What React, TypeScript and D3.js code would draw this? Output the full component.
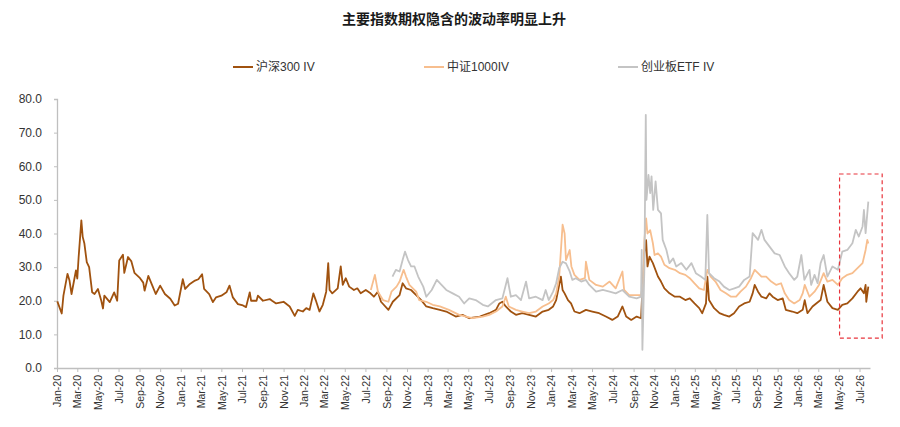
import { useEffect, useRef } from "react"
import * as d3 from "d3"

const title = "主要指数期权隐含的波动率明显上升"
const seriesNames = ["沪深300 IV", "中证1000IV", "创业板ETF IV"]
const yTicks = [0, 10, 20, 30, 40, 50, 60, 70, 80]

// 沪深300 IV
const hs300: [string, number][] = [
  ["2020-01-02", 19.8], ["2020-01-15", 16.2], ["2020-01-20", 21.5], ["2020-02-01", 28], ["2020-02-07", 26],
  ["2020-02-13", 22], ["2020-02-26", 29], ["2020-03-01", 26.6], ["2020-03-05", 33], ["2020-03-13", 43.9],
  ["2020-03-17", 39], ["2020-03-22", 37], ["2020-03-29", 31.5], ["2020-04-05", 30], ["2020-04-14", 22.5],
  ["2020-04-21", 22], ["2020-05-01", 23.5], ["2020-05-11", 20], ["2020-05-16", 17.7], ["2020-05-20", 21.5],
  ["2020-06-05", 19.6], ["2020-06-18", 22.5], ["2020-06-27", 20], ["2020-07-03", 32], ["2020-07-14", 33.7],
  ["2020-07-18", 28.3], ["2020-07-29", 33], ["2020-08-08", 31.7], ["2020-08-17", 28.3], ["2020-09-01", 26.9],
  ["2020-09-12", 25.4], ["2020-09-16", 23], ["2020-09-27", 27.4], ["2020-10-11", 24], ["2020-10-19", 22],
  ["2020-11-01", 24.5], ["2020-11-15", 22], ["2020-12-01", 20.6], ["2020-12-14", 18.6], ["2020-12-24", 19.1],
  ["2021-01-07", 26.4], ["2021-01-14", 23.5], ["2021-01-28", 25], ["2021-02-12", 26], ["2021-02-22", 26.4],
  ["2021-03-05", 27.9], ["2021-03-11", 23.5], ["2021-03-26", 22], ["2021-04-06", 19.6], ["2021-04-15", 21],
  ["2021-05-01", 21.5], ["2021-05-16", 22.5], ["2021-05-25", 24.5], ["2021-06-04", 21], ["2021-06-19", 19],
  ["2021-07-04", 18.6], ["2021-07-13", 18.1], ["2021-07-24", 22.5], ["2021-07-28", 20], ["2021-08-13", 20],
  ["2021-08-17", 21.5], ["2021-09-01", 20], ["2021-09-21", 20.5], ["2021-09-28", 20], ["2021-10-10", 19.2],
  ["2021-11-01", 19.7], ["2021-11-19", 18.3], ["2021-12-04", 15.5], ["2021-12-13", 17.3], ["2021-12-28", 16.8],
  ["2022-01-07", 17.8], ["2022-01-17", 17.3], ["2022-01-28", 22.2], ["2022-02-04", 20.2], ["2022-02-15", 16.8],
  ["2022-02-25", 18.8], ["2022-03-07", 22.7], ["2022-03-13", 31.2], ["2022-03-17", 23.2], ["2022-03-25", 22.2],
  ["2022-04-10", 23.7], ["2022-04-19", 30.2], ["2022-04-25", 24.7], ["2022-05-04", 26.7], ["2022-05-14", 24.2],
  ["2022-05-28", 23.2], ["2022-06-07", 23.7], ["2022-06-17", 22.2], ["2022-07-02", 23.2], ["2022-07-16", 22.2],
  ["2022-07-26", 21.2], ["2022-08-07", 22.7], ["2022-08-16", 19.7], ["2022-09-07", 17.3], ["2022-09-20", 19.7],
  ["2022-10-10", 21.7], ["2022-10-19", 25.2], ["2022-10-29", 23.7], ["2022-11-13", 23.2], ["2022-11-28", 21.7],
  ["2022-12-13", 20.2], ["2022-12-28", 18.3], ["2023-01-16", 17.8], ["2023-02-06", 17.3], ["2023-02-25", 16.8],
  ["2023-03-25", 15.3], ["2023-04-14", 15.8], ["2023-05-04", 14.8], ["2023-06-04", 15.3], ["2023-07-02", 16.3],
  ["2023-07-22", 17.3], ["2023-08-01", 19.2], ["2023-08-10", 19.7], ["2023-08-20", 18.3], ["2023-09-04", 16.8],
  ["2023-09-19", 15.8], ["2023-10-08", 16.3], ["2023-10-28", 15.8], ["2023-11-17", 15.3], ["2023-12-07", 16.8],
  ["2023-12-25", 17.3], ["2024-01-07", 18.3], ["2024-01-16", 20.2], ["2024-01-30", 27.2], ["2024-02-04", 23.2],
  ["2024-02-10", 22.2], ["2024-02-20", 20.2], ["2024-02-29", 19.2], ["2024-03-10", 16.8], ["2024-03-25", 16.3],
  ["2024-04-13", 17.3], ["2024-05-02", 16.8], ["2024-05-22", 16.3], ["2024-06-11", 15.3], ["2024-06-30", 14.3],
  ["2024-07-16", 15.3], ["2024-07-30", 18.3], ["2024-08-10", 15.3], ["2024-08-25", 14.3], ["2024-09-10", 15.3],
  ["2024-09-23", 14.8], ["2024-09-26", 21.2], ["2024-10-03", 34.1], ["2024-10-08", 38], ["2024-10-12", 30.2],
  ["2024-10-18", 33.1], ["2024-10-28", 31.2], ["2024-11-12", 27.2], ["2024-11-21", 25.7], ["2024-12-01", 23.7],
  ["2024-12-16", 22.2], ["2025-01-01", 21.2], ["2025-01-16", 21.2], ["2025-02-01", 20.2], ["2025-02-14", 20.7],
  ["2025-02-28", 19.2], ["2025-03-14", 17.8], ["2025-03-23", 16.3], ["2025-04-03", 19.2], ["2025-04-07", 27.2],
  ["2025-04-12", 20.2], ["2025-04-27", 17.8], ["2025-05-13", 16.3], ["2025-05-26", 15.8], ["2025-06-11", 15.3],
  ["2025-06-25", 16.3], ["2025-07-10", 18.3], ["2025-07-25", 19.2], ["2025-08-10", 19.7], ["2025-08-19", 22.2],
  ["2025-08-25", 24.7], ["2025-09-04", 22.7], ["2025-09-14", 21.2], ["2025-09-28", 20.7], ["2025-10-08", 22.2],
  ["2025-10-17", 21.2], ["2025-11-01", 20.2], ["2025-11-16", 20.7], ["2025-11-25", 17.3], ["2025-12-14", 16.8],
  ["2025-12-29", 16.3], ["2026-01-14", 17.3], ["2026-01-20", 20.2], ["2026-01-28", 16.3], ["2026-02-12", 18.3],
  ["2026-02-23", 19.2], ["2026-03-08", 20.2], ["2026-03-17", 24.7], ["2026-03-28", 19.7], ["2026-04-12", 17.8],
  ["2026-04-28", 17.3], ["2026-05-11", 18.8], ["2026-05-26", 19.2], ["2026-06-10", 20.7], ["2026-06-25", 22.7],
  ["2026-07-04", 23.7], ["2026-07-14", 22.2], ["2026-07-19", 24.7], ["2026-07-21", 19.7], ["2026-07-27", 24.2],
]

// 中证1000IV
const csi1000: [string, number][] = [
  ["2022-07-17", 23.2], ["2022-07-29", 27.7], ["2022-08-07", 22.7], ["2022-08-22", 20.2], ["2022-09-07", 19.7],
  ["2022-09-16", 22.7], ["2022-10-01", 24.2], ["2022-10-10", 25.7], ["2022-10-22", 29.2], ["2022-10-29", 27.2],
  ["2022-11-08", 24.7], ["2022-11-28", 22.7], ["2022-12-07", 20.2], ["2022-12-28", 19.7], ["2023-01-16", 18.8],
  ["2023-02-06", 18.3], ["2023-03-05", 17.3], ["2023-04-04", 15.8], ["2023-04-25", 15.3], ["2023-05-13", 14.8],
  ["2023-06-13", 15.3], ["2023-07-02", 15.8], ["2023-07-22", 16.8], ["2023-08-10", 18.3], ["2023-08-20", 21.2],
  ["2023-08-29", 18.3], ["2023-09-19", 17.3], ["2023-10-08", 16.8], ["2023-10-28", 16.3], ["2023-11-17", 16.8],
  ["2023-12-07", 18.3], ["2023-12-25", 19.2], ["2024-01-07", 20.2], ["2024-01-16", 22.2], ["2024-01-25", 27.2],
  ["2024-02-04", 42.6], ["2024-02-10", 40], ["2024-02-14", 32.1], ["2024-02-25", 35.1], ["2024-03-01", 30.2],
  ["2024-03-10", 27.7], ["2024-03-25", 26.2], ["2024-04-10", 26.7], ["2024-04-13", 31.6], ["2024-04-23", 26.2],
  ["2024-05-13", 24.7], ["2024-06-02", 24.2], ["2024-06-22", 25.7], ["2024-07-10", 23.7], ["2024-07-30", 28.7],
  ["2024-08-04", 23.2], ["2024-08-19", 21.7], ["2024-09-10", 21.7], ["2024-09-23", 21.7], ["2024-09-29", 25],
  ["2024-10-03", 38.1], ["2024-10-08", 44.5], ["2024-10-12", 40], ["2024-10-20", 41], ["2024-10-28", 37.1],
  ["2024-11-02", 33.6], ["2024-11-12", 34.1], ["2024-11-21", 33.1], ["2024-12-01", 30.7], ["2024-12-16", 29.7],
  ["2025-01-01", 29.2], ["2025-01-16", 28.2], ["2025-02-01", 27.7], ["2025-02-14", 26.7], ["2025-02-28", 25.2],
  ["2025-03-14", 23.7], ["2025-03-28", 23.2], ["2025-04-07", 29.2], ["2025-04-17", 27.2], ["2025-05-01", 25.7],
  ["2025-05-16", 23.2], ["2025-06-01", 22.2], ["2025-06-16", 21.2], ["2025-07-01", 21.2], ["2025-07-14", 22.7],
  ["2025-07-30", 24.2], ["2025-08-14", 26.7], ["2025-08-25", 29.2], ["2025-09-04", 28.2], ["2025-09-14", 27.2],
  ["2025-09-28", 27.2], ["2025-10-13", 25.7], ["2025-10-28", 24.7], ["2025-11-11", 25.2], ["2025-11-22", 22.2],
  ["2025-12-05", 20.2], ["2025-12-20", 19.2], ["2026-01-05", 20.2], ["2026-01-14", 22.2], ["2026-01-20", 24.7],
  ["2026-02-03", 21.2], ["2026-02-18", 22.7], ["2026-03-03", 24.7], ["2026-03-17", 28.2], ["2026-03-28", 25.7],
  ["2026-04-12", 26.2], ["2026-04-28", 24.7], ["2026-05-11", 26.7], ["2026-05-26", 27.7], ["2026-06-10", 28.2],
  ["2026-06-25", 29.7], ["2026-07-10", 31.2], ["2026-07-19", 35.1], ["2026-07-24", 38.1], ["2026-07-27", 37],
]

// 创业板ETF IV
const chinext: [string, number][] = [
  ["2022-09-19", 27.2], ["2022-09-29", 29.2], ["2022-10-10", 28.7], ["2022-10-19", 32.1], ["2022-10-26", 34.6],
  ["2022-11-04", 32.1], ["2022-11-13", 30.2], ["2022-11-23", 30.2], ["2022-12-04", 27.2], ["2022-12-19", 24.2],
  ["2022-12-28", 21.2], ["2023-01-13", 23.2], ["2023-01-28", 26.2], ["2023-02-11", 24.7], ["2023-02-25", 23.2],
  ["2023-03-16", 22.2], ["2023-04-04", 21.2], ["2023-04-19", 19.2], ["2023-05-04", 20.7], ["2023-05-23", 20.2],
  ["2023-06-13", 18.8], ["2023-06-28", 18.3], ["2023-07-22", 20.2], ["2023-08-10", 20.7], ["2023-08-25", 26.7],
  ["2023-09-04", 21.2], ["2023-09-19", 21.7], ["2023-10-04", 20.2], ["2023-10-19", 25.7], ["2023-10-28", 20.7],
  ["2023-11-17", 21.2], ["2023-12-07", 20.2], ["2023-12-16", 23.2], ["2023-12-25", 20.2], ["2024-01-07", 22.7],
  ["2024-01-16", 25.2], ["2024-01-25", 29.7], ["2024-02-04", 31.6], ["2024-02-14", 31.1], ["2024-02-25", 28.7],
  ["2024-03-04", 26.2], ["2024-03-14", 26.7], ["2024-03-30", 25.7], ["2024-04-13", 26.2], ["2024-04-23", 24.7],
  ["2024-05-13", 22.7], ["2024-06-02", 23.2], ["2024-06-22", 22.7], ["2024-07-10", 22.2], ["2024-07-30", 23.2],
  ["2024-08-19", 21.2], ["2024-09-10", 20.7], ["2024-09-23", 21.2], ["2024-09-25", 35.1], ["2024-09-27", 5.4],
  ["2024-10-03", 30.2], ["2024-10-07", 75.3], ["2024-10-09", 50], ["2024-10-15", 57.4], ["2024-10-20", 52],
  ["2024-10-24", 57], ["2024-10-29", 47], ["2024-11-05", 55.5], ["2024-11-12", 47], ["2024-11-21", 46],
  ["2024-11-26", 38.1], ["2024-12-07", 35.1], ["2024-12-16", 31.2], ["2024-12-27", 32.6], ["2025-01-05", 30.2],
  ["2025-01-20", 31.2], ["2025-02-04", 29.2], ["2025-02-19", 31.2], ["2025-03-04", 28.2], ["2025-03-19", 27.2],
  ["2025-04-01", 26.2], ["2025-04-07", 45.5], ["2025-04-12", 28.2], ["2025-04-27", 26.7], ["2025-05-13", 25.7],
  ["2025-05-26", 24.2], ["2025-06-11", 23.2], ["2025-06-26", 23.7], ["2025-07-10", 24.2], ["2025-07-25", 26.2],
  ["2025-08-10", 27.2], ["2025-08-19", 40.1], ["2025-09-04", 38.1], ["2025-09-14", 41.1], ["2025-09-23", 38.1],
  ["2025-10-08", 36.1], ["2025-10-23", 34.1], ["2025-11-07", 33.6], ["2025-11-22", 30.2], ["2025-12-05", 28.2],
  ["2025-12-20", 26.2], ["2025-12-29", 27.2], ["2026-01-10", 33.6], ["2026-01-19", 26.2], ["2026-02-03", 29.2],
  ["2026-02-08", 24.7], ["2026-02-18", 27.7], ["2026-02-27", 25.2], ["2026-03-08", 31.2], ["2026-03-17", 33.6],
  ["2026-03-28", 27.2], ["2026-04-12", 30.2], ["2026-04-28", 29.2], ["2026-05-11", 34.6], ["2026-05-26", 35.1],
  ["2026-06-10", 37.1], ["2026-06-20", 41.1], ["2026-06-29", 39.1], ["2026-07-10", 42.1], ["2026-07-14", 47],
  ["2026-07-19", 40.1], ["2026-07-27", 49.5],
]

// highlighted window (dates and values)
const highlightDates = ["2026-05-03", "2026-09-06"]
const highlightValues = [8.9, 57.7]

const colors = ["#A0520F", "#F7BE8E", "#C4C4C4"]
const fontFamily = '"Liberation Sans", Arial, "Noto Sans CJK SC", sans-serif'

export default function App() {
  const svgRef = useRef<SVGSVGElement>(null)
  const width = 900
  const height = 427

  useEffect(() => {
    const svg = d3.select(svgRef.current)
    svg.selectAll("*").remove()

    const parse = d3.timeParse("%Y-%m-%d")
    const x = d3
      .scaleTime()
      .domain([new Date(2020, 0, 1), new Date(2026, 7, 1)])
      .range([57, 870])
    const y = d3.scaleLinear().domain([0, 80]).range([368, 99])

    // Title
    svg
      .append("text")
      .attr("x", 454)
      .attr("y", 24)
      .attr("text-anchor", "middle")
      .attr("font-size", "14px")
      .attr("font-weight", "bold")
      .attr("fill", "#1a1a1a")
      .style("font-family", '"Noto Sans CJK SC", sans-serif')
      .text(title)

    // Legend
    const legendX = [233, 424, 618]
    seriesNames.forEach((name, i) => {
      const g = svg.append("g").attr("transform", `translate(${legendX[i]},67)`)
      g.append("line").attr("x1", 0).attr("x2", 20).attr("stroke", colors[i]).attr("stroke-width", 2)
      g.append("text")
        .attr("x", 23)
        .attr("dy", "0.35em")
        .attr("font-size", "12px")
        .attr("fill", "#333")
        .style("font-family", fontFamily)
        .text(name)
    })

    // Y axis
    const yAxis = svg
      .append("g")
      .attr("transform", "translate(57,0)")
      .call(
        d3
          .axisLeft(y)
          .tickValues(yTicks)
          .tickSize(3)
          .tickPadding(12)
          .tickFormat((d) => d3.format(".1f")(d as number))
      )
    yAxis.select(".domain").attr("stroke", "#bfbfbf").attr("stroke-width", 1.3)
    yAxis.selectAll(".tick line").attr("stroke", "#bfbfbf")
    yAxis
      .selectAll("text")
      .attr("font-size", "12px")
      .attr("fill", "#333")
      .style("font-family", fontFamily)

    // X axis
    const xAxis = svg
      .append("g")
      .attr("transform", "translate(0,368)")
      .call(
        d3
          .axisBottom(x)
          .ticks(d3.timeMonth.every(2))
          .tickSize(4)
          .tickSizeOuter(0)
          .tickFormat((d) => d3.timeFormat("%b-%y")(d as Date))
      )
    xAxis.select(".domain").attr("stroke", "#bfbfbf").attr("stroke-width", 1.3)
    xAxis.selectAll(".tick line").attr("stroke", "#bfbfbf")
    xAxis
      .selectAll("text")
      .attr("transform", "rotate(-90)")
      .attr("x", -7)
      .attr("y", 0)
      .attr("dy", "0.35em")
      .style("text-anchor", "end")
      .attr("font-size", "10.5px")
      .attr("fill", "#333")
      .style("font-family", fontFamily)

    // Lines
    const line = d3
      .line<[string, number]>()
      .x((d) => x(parse(d[0]) as Date))
      .y((d) => y(d[1]))
      .curve(d3.curveLinear)

    ;[hs300, csi1000, chinext].forEach((data, i) => {
      svg
        .append("path")
        .datum(data)
        .attr("fill", "none")
        .attr("stroke", colors[i])
        .attr("stroke-width", 1.8)
        .attr("stroke-linejoin", "round")
        .attr("d", line)
    })

    // Highlight box
    const x0 = x(parse(highlightDates[0]) as Date)
    const x1 = x(parse(highlightDates[1]) as Date)
    svg
      .append("rect")
      .attr("x", x0)
      .attr("y", y(highlightValues[1]))
      .attr("width", x1 - x0)
      .attr("height", y(highlightValues[0]) - y(highlightValues[1]))
      .attr("fill", "none")
      .attr("stroke", "#E8343C")
      .attr("stroke-width", 1.2)
      .attr("stroke-dasharray", "4,3")
  }, [])

  return (
    <svg
      ref={svgRef}
      width={width}
      height={height}
      style={{ position: "absolute", left: 0, top: 0, background: "#fff" }}
    />
  )
}
